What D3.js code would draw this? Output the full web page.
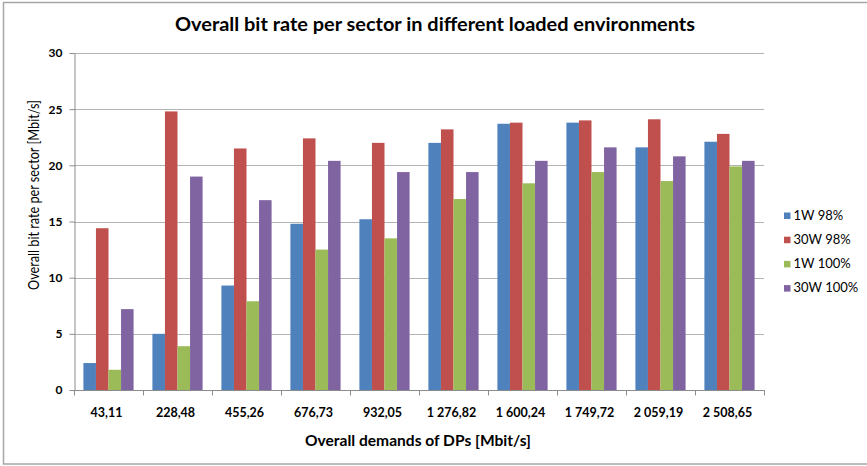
<!DOCTYPE html>
<html>
<head>
<meta charset="utf-8">
<script src="https://cdn.jsdelivr.net/npm/d3@7"></script>
<style>
  html, body { margin: 0; padding: 0; background: #fff; }
  svg { display: block; }
  text { font-family: Lato, "Liberation Sans", sans-serif; fill: #000; }
</style>
</head>
<body>
<svg id="chart" width="867" height="466"></svg>
<script>
// Category labels: overall demand of DPs [Mbit/s]
const categories = ["43,11", "228,48", "455,26", "676,73", "932,05",
                    "1 276,82", "1 600,24", "1 749,72", "2 059,19", "2 508,65"];

// Series names and values: overall bit rate per sector [Mbit/s]
const seriesNames = ["1W 98%", "30W 98%", "1W 100%", "30W 100%"];
const w1_98   = [2.4, 5.0, 9.3, 14.8, 15.2, 22.0, 23.7, 23.8, 21.6, 22.1];
const w30_98  = [14.4, 24.8, 21.5, 22.4, 22.0, 23.2, 23.8, 24.0, 24.1, 22.8];
const w1_100  = [1.8, 3.9, 7.9, 12.5, 13.5, 17.0, 18.4, 19.4, 18.6, 19.9];
const w30_100 = [7.2, 19.0, 16.9, 20.4, 19.4, 19.4, 20.4, 21.6, 20.8, 20.4];
const seriesValues = [w1_98, w30_98, w1_100, w30_100];
const colors = ["#4F81BD", "#C0504D", "#9BBB59", "#8064A2"];

// Y-axis tick values
const yTicks = [0, 5, 10, 15, 20, 25, 30];

const svg = d3.select("#chart");

// Chart frame
svg.append("rect")
  .attr("x", 3.5).attr("y", 2.5)
  .attr("width", 880).attr("height", 461.5)
  .attr("fill", "none").attr("stroke", "#a6a6a6").attr("stroke-width", 1.5);

const plot = { left: 74, right: 764, top: 53, bottom: 390 };

const x0 = d3.scaleBand().domain(categories).range([plot.left, plot.right]).padding(0);
const x1 = d3.scaleBand().domain(seriesNames).range([0, x0.bandwidth()])
  .paddingInner(0).paddingOuter(0.75);
const y = d3.scaleLinear().domain([0, 30]).range([plot.bottom, plot.top]);

// Horizontal gridlines
svg.append("g").selectAll("line")
  .data(yTicks.filter(t => t > 0))
  .join("line")
  .attr("x1", plot.left).attr("x2", plot.right)
  .attr("y1", d => Math.round(y(d)) + 0.5).attr("y2", d => Math.round(y(d)) + 0.5)
  .attr("stroke", "#b3b3b3").attr("stroke-width", 1);

// Bars
const groups = svg.append("g").selectAll("g")
  .data(categories)
  .join("g")
  .attr("transform", d => `translate(${x0(d)},0)`);

groups.selectAll("rect")
  .data((c, i) => seriesNames.map((s, j) => ({ s, j, v: seriesValues[j][i] })))
  .join("rect")
  .attr("x", d => x1(d.s))
  .attr("width", x1.bandwidth())
  .attr("y", d => y(d.v))
  .attr("height", d => y(0) - y(d.v))
  .attr("fill", d => colors[d.j]);

// Y axis
const yAxis = svg.append("g")
  .attr("transform", `translate(${plot.left + 0.5},0)`)
  .call(d3.axisLeft(y).tickValues(yTicks).tickSize(5).tickSizeOuter(0).tickPadding(7));
yAxis.select(".domain").attr("stroke", "#8c8c8c");
yAxis.selectAll(".tick line").attr("stroke", "#8c8c8c");
yAxis.selectAll(".tick text")
  .attr("font-family", "Lato, 'Liberation Sans', sans-serif")
  .attr("font-size", 12).attr("font-weight", "bold").attr("fill", "#000");

// X axis: ticks sit on category boundaries
const xAxis = svg.append("g")
  .attr("transform", `translate(0,${plot.bottom + 0.5})`);
xAxis.append("line")
  .attr("x1", plot.left).attr("x2", plot.right + 1)
  .attr("stroke", "#8c8c8c");
xAxis.selectAll(".xtick")
  .data(categories.concat([null]))
  .join("line")
  .attr("class", "xtick")
  .attr("x1", (d, i) => Math.round(plot.left + i * x0.step()) + 0.5)
  .attr("x2", (d, i) => Math.round(plot.left + i * x0.step()) + 0.5)
  .attr("y1", 0).attr("y2", 5)
  .attr("stroke", "#8c8c8c");
xAxis.selectAll(".xlabel")
  .data(categories)
  .join("text")
  .attr("class", "xlabel")
  .attr("x", d => x0(d) + x0.bandwidth() / 2 - 2)
  .attr("y", 26)
  .attr("text-anchor", "middle")
  .attr("font-size", 12.5).attr("font-weight", "bold")
  .text(d => d);

// Titles
svg.append("text")
  .attr("x", 435).attr("y", 31)
  .attr("text-anchor", "middle")
  .attr("font-size", 18).attr("font-weight", "bold")
  .attr("textLength", 520).attr("lengthAdjust", "spacingAndGlyphs")
  .text("Overall bit rate per sector in different loaded environments");

svg.append("text")
  .attr("x", 418).attr("y", 446)
  .attr("text-anchor", "middle")
  .attr("font-size", 14.5).attr("font-weight", "bold")
  .attr("textLength", 226).attr("lengthAdjust", "spacingAndGlyphs")
  .text("Overall demands of DPs [Mbit/s]");

svg.append("text")
  .attr("transform", "translate(39,195) rotate(-90)")
  .attr("text-anchor", "middle")
  .attr("font-size", 15)
  .attr("textLength", 190).attr("lengthAdjust", "spacingAndGlyphs")
  .text("Overall bit rate per sector [Mbit/s]");

// Legend
const legend = svg.append("g").selectAll("g")
  .data(seriesNames)
  .join("g")
  .attr("transform", (d, i) => `translate(784,${212.5 + i * 24.2})`);
legend.append("rect")
  .attr("width", 6.5).attr("height", 6.5)
  .attr("fill", (d, i) => colors[i]);
legend.append("text")
  .attr("x", 9.5).attr("y", 7)
  .attr("font-size", 13)
  .text(d => d);
</script>
</body>
</html>
